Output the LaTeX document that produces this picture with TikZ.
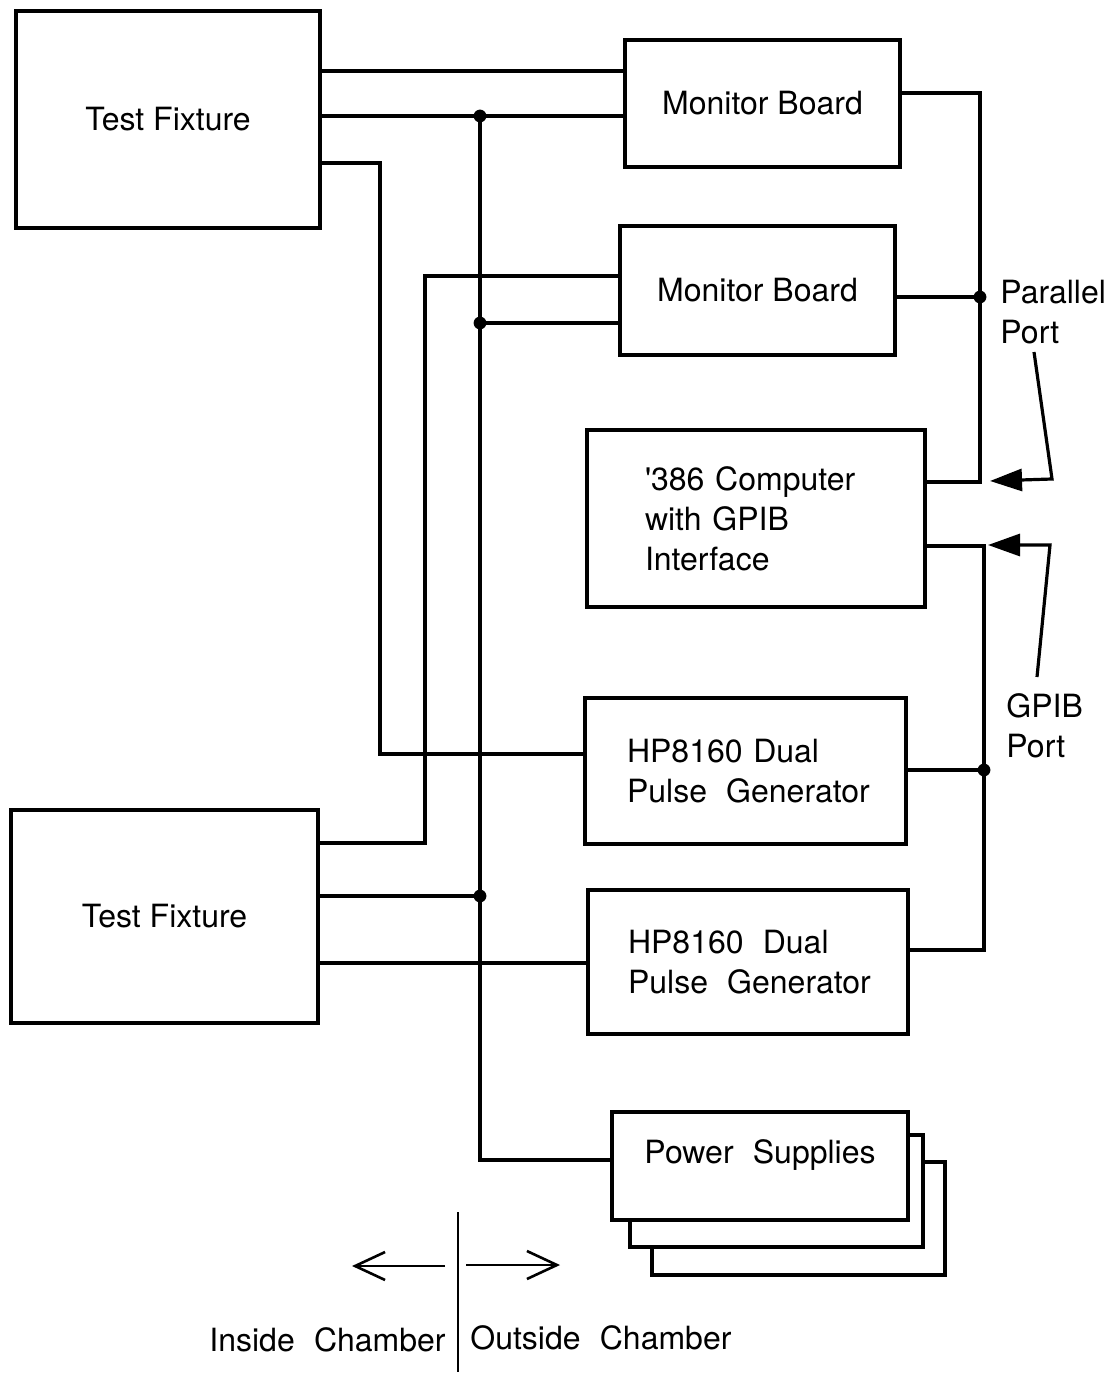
\documentclass[tikz,border=0pt]{standalone}
\usepackage{fontspec}
\setmainfont{TeX Gyre Heros}
\usetikzlibrary{arrows.meta}
\newcommand{\lblfont}{\fontsize{16}{20}\selectfont}
\newcommand{\wsp}{\hspace{0.6em}}
\tikzset{
  blk/.style={draw, line width=1.6pt, fill=white, inner sep=0pt},
  wire/.style={line width=1.6pt},
  fat/.style={-{Triangle[length=16pt,width=11pt]}},
  open/.style={-{Straight Barb[length=15pt,width=14pt]}}
}
\begin{document}
\begin{tikzpicture}[x=0.5pt,y=-0.5pt,font=\lblfont,line join=miter]
  \useasboundingbox (0,0) rectangle (1115,1374);

  % boxes
  \node[blk, minimum width=152pt, minimum height=108.5pt] (tf1) at (168,119.5) {Test Fixture};
  \node[blk, minimum width=137.5pt, minimum height=63.5pt] (mb1) at (762.5,103.5) {Monitor Board};
  \node[blk, minimum width=137.5pt, minimum height=64.5pt] (mb2) at (757.5,290.5) {Monitor Board};
  \node[blk, minimum height=88.5pt, text width=111pt, inner xsep=29pt, align=left] (pc) at (756,518.5)
    {\textquotesingle386 Computer\\with GPIB\\Interface};
  \node[blk, minimum height=73pt, text width=118.5pt, inner xsep=21pt, align=left] (hp1) at (745.5,771)
    {\mbox{HP8160 Dual}\\\mbox{Pulse\wsp Generator}};
  \node[blk, minimum width=153.5pt, minimum height=106.5pt] (tf2) at (164.5,916.5) {Test Fixture};
  \node[blk, minimum height=72pt, text width=120pt, inner xsep=20pt, align=left] (hp2) at (748,962)
    {\mbox{HP8160\wsp Dual}\\\mbox{Pulse\wsp Generator}};
  \node[blk, minimum width=146.5pt, minimum height=56.5pt] (ps3) at (798.5,1218.5) {};
  \node[blk, minimum width=146.5pt, minimum height=56pt] (ps2) at (776.5,1191) {};
  \node[blk, minimum width=148pt, inner ysep=0pt, text height=25.5pt, text depth=28.5pt] (ps1) at (760,1166)
    {Power\wsp Supplies};

  % junctions
  \coordinate (j1) at (480,116);
  \coordinate (j2) at (480,323);
  \coordinate (j3) at (480,896);
  \coordinate (j4) at (980,297);
  \coordinate (j5) at (984,770);

  % left side wiring
  \draw[wire] (tf1.east |- 0,71) -- (mb1.west |- 0,71);
  \draw[wire] (tf1.east |- j1) -- (mb1.west |- j1);
  \draw[wire] (tf1.east |- 0,163) -| (380,754) -- (hp1.west |- 0,754);
  \draw[wire] (mb2.west |- 0,276) -| (425,843) -- (tf2.east |- 0,843);
  \draw[wire] (mb2.west |- j2) -- (j2);
  \draw[wire] (j1) -- (480,1160) -- (ps1.west |- 0,1160);
  \draw[wire] (tf2.east |- j3) -- (j3);
  \draw[wire] (tf2.east |- 0,963) -- (hp2.west |- 0,963);

  % right side wiring
  \draw[wire] (mb1.east |- 0,93) -| (980,482) -- (pc.east |- 0,482);
  \draw[wire] (mb2.east |- j4) -- (j4);
  \draw[wire] (pc.east |- 0,546) -| (984,950) -- (hp2.east |- 0,950);
  \draw[wire] (hp1.east |- j5) -- (j5);

  \foreach \j in {j1,j2,j3,j4,j5}
    \fill (\j) circle (3.2pt);

  % ports
  \node[anchor=west, align=left, inner sep=0pt] (par) at (1000,312) {Parallel\\Port};
  \draw[wire,fat] (1034,352) -- (1052,479) -- (990,481);
  \node[anchor=west, align=left, inner sep=0pt] (gpib) at (1006,726) {GPIB\\Port};
  \draw[wire,fat] (1037,677) -- (1050,545) -- (988,545);

  % chamber boundary
  \draw[line width=1.3pt] (458,1212) -- (458,1372);
  \draw[line width=1.3pt,open] (445,1266) -- (352,1266);
  \draw[line width=1.3pt,open] (466,1265) -- (560,1265);
  \node[anchor=east, inner sep=0pt] (ins) at (446,1340) {Inside\wsp Chamber};
  \node[anchor=west, inner sep=0pt] (outs) at (470,1338) {Outside\wsp Chamber};
\end{tikzpicture}
\end{document}
